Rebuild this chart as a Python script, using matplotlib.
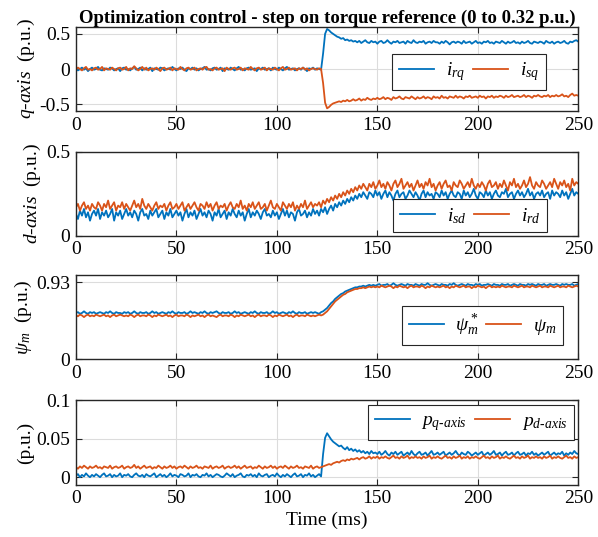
import numpy as np
import matplotlib
matplotlib.use("Agg")
import matplotlib.pyplot as plt

plt.rcParams['font.family'] = ['Liberation Serif', 'DejaVu Serif']
plt.rcParams['mathtext.fontset'] = 'custom'
plt.rcParams['mathtext.rm'] = 'Liberation Serif'
plt.rcParams['mathtext.it'] = 'Liberation Serif:italic'
plt.rcParams['mathtext.bf'] = 'Liberation Serif:bold'
plt.rcParams['axes.unicode_minus'] = False

# Sample times (ms), one sample per millisecond
time_ms = np.arange(0, 251)

# q-axis currents (p.u.)
i_rq = [0.01, -0.02, 0.00, 0.02, -0.01, 0.01, -0.03, 0.00, 0.02, -0.01,
        0.00, 0.03, -0.01, -0.02, 0.01, 0.00, -0.01, 0.02, 0.01, -0.02,
        0.00, 0.01, -0.03, 0.01, 0.02, -0.01, 0.00, -0.02, 0.01, 0.03,
        -0.01, 0.00, 0.02, -0.02, 0.01, -0.01, 0.00, 0.02, -0.03, 0.01,
        0.00, -0.01, 0.02, 0.01, -0.02, 0.00, 0.01, -0.01, 0.03, 0.00,
        -0.02, 0.01, 0.00, 0.02, -0.01, -0.03, 0.01, 0.00, 0.02, -0.01,
        0.01, -0.02, 0.00, 0.01, 0.03, -0.01, 0.00, -0.02, 0.01, 0.02,
        -0.01, 0.00, 0.02, -0.03, 0.01, 0.00, -0.01, 0.02, 0.00, -0.02,
        0.01, 0.03, -0.01, 0.00, -0.02, 0.01, 0.02, -0.01, 0.00, 0.01,
        -0.03, 0.01, 0.00, 0.02, -0.01, 0.00, 0.01, -0.02, 0.02, 0.00,
        -0.01, 0.02, 0.00, -0.02, 0.01, 0.03, -0.01, 0.00, 0.01, -0.02,
        0.00, 0.01, -0.01, 0.02, 0.00, -0.03, 0.01, 0.00, 0.02, -0.01,
        0.01, 0.00, -0.01, 0.22, 0.50, 0.57, 0.55, 0.52, 0.50, 0.48,
        0.46, 0.45, 0.43, 0.44, 0.41, 0.42, 0.40, 0.41, 0.39, 0.40,
        0.38, 0.40, 0.37, 0.39, 0.41, 0.38, 0.37, 0.40, 0.38, 0.39,
        0.36, 0.39, 0.40, 0.37, 0.38, 0.41, 0.38, 0.36, 0.39, 0.38,
        0.40, 0.37, 0.38, 0.39, 0.36, 0.40, 0.38, 0.37, 0.41, 0.38,
        0.37, 0.39, 0.38, 0.40, 0.36, 0.38, 0.39, 0.37, 0.40, 0.38,
        0.38, 0.36, 0.39, 0.37, 0.40, 0.38, 0.35, 0.38, 0.39, 0.37,
        0.39, 0.38, 0.36, 0.40, 0.37, 0.38, 0.39, 0.36, 0.38, 0.40,
        0.37, 0.38, 0.36, 0.39, 0.38, 0.40, 0.37, 0.38, 0.36, 0.39,
        0.38, 0.37, 0.40, 0.38, 0.36, 0.39, 0.37, 0.38, 0.40, 0.37,
        0.38, 0.36, 0.39, 0.37, 0.38, 0.40, 0.37, 0.36, 0.39, 0.38,
        0.37, 0.39, 0.38, 0.36, 0.40, 0.38, 0.37, 0.39, 0.36, 0.38,
        0.39, 0.37, 0.38, 0.40, 0.37, 0.36, 0.39, 0.38, 0.40, 0.41,
        0.39]
i_sq = [-0.01, 0.02, 0.00, -0.02, 0.01, 0.03, -0.01, 0.00, -0.02, 0.01,
        0.02, -0.01, 0.00, 0.03, -0.02, 0.01, 0.00, -0.01, 0.02, 0.00,
        -0.02, 0.01, 0.02, -0.01, 0.00, 0.03, -0.02, 0.01, 0.00, 0.04,
        0.01, -0.02, 0.00, 0.03, -0.01, 0.02, -0.02, 0.00, 0.01, -0.01,
        0.02, 0.00, -0.03, 0.01, 0.02, -0.01, 0.00, 0.02, -0.02, 0.01,
        0.00, -0.01, 0.03, 0.00, -0.02, 0.01, 0.02, -0.01, 0.00, 0.02,
        -0.02, 0.00, 0.01, -0.01, 0.02, 0.03, -0.01, 0.00, -0.02, 0.01,
        0.02, -0.01, 0.00, 0.01, -0.03, 0.02, 0.00, -0.01, 0.01, 0.02,
        -0.01, 0.00, 0.02, -0.02, 0.01, 0.00, -0.01, 0.03, 0.00, -0.02,
        0.01, 0.02, -0.01, 0.00, 0.02, -0.02, 0.01, 0.00, -0.01, 0.02,
        0.00, -0.02, 0.01, 0.03, -0.01, 0.00, 0.02, -0.01, 0.00, 0.01,
        -0.02, 0.01, 0.00, 0.02, -0.01, 0.01, -0.02, 0.00, 0.01, 0.00,
        -0.01, 0.01, 0.00, -0.20, -0.48, -0.56, -0.54, -0.51, -0.49, -0.48,
        -0.47, -0.46, -0.47, -0.45, -0.46, -0.44, -0.46, -0.45, -0.43, -0.45,
        -0.44, -0.42, -0.45, -0.43, -0.44, -0.41, -0.43, -0.44, -0.42, -0.43,
        -0.41, -0.43, -0.42, -0.40, -0.43, -0.41, -0.42, -0.44, -0.40, -0.42,
        -0.41, -0.39, -0.42, -0.43, -0.40, -0.41, -0.42, -0.39, -0.41, -0.43,
        -0.40, -0.42, -0.41, -0.39, -0.42, -0.40, -0.41, -0.43, -0.39, -0.41,
        -0.40, -0.42, -0.38, -0.41, -0.40, -0.42, -0.39, -0.40, -0.41, -0.38,
        -0.41, -0.39, -0.40, -0.42, -0.39, -0.40, -0.38, -0.41, -0.40, -0.39,
        -0.41, -0.38, -0.40, -0.39, -0.42, -0.39, -0.40, -0.38, -0.41, -0.39,
        -0.40, -0.38, -0.39, -0.41, -0.38, -0.40, -0.39, -0.37, -0.40, -0.39,
        -0.38, -0.40, -0.39, -0.37, -0.40, -0.38, -0.39, -0.41, -0.38, -0.39,
        -0.37, -0.39, -0.40, -0.38, -0.39, -0.37, -0.40, -0.38, -0.39, -0.37,
        -0.39, -0.38, -0.36, -0.39, -0.38, -0.40, -0.37, -0.35, -0.38, -0.37,
        -0.38]

# d-axis currents (p.u.)
i_sd = [0.13, 0.10, 0.15, 0.12, 0.16, 0.11, 0.14, 0.09, 0.13, 0.15,
        0.12, 0.16, 0.10, 0.14, 0.12, 0.15, 0.11, 0.13, 0.16, 0.09,
        0.14, 0.12, 0.15, 0.10, 0.13, 0.16, 0.12, 0.14, 0.11, 0.15,
        0.13, 0.09, 0.14, 0.16, 0.12, 0.13, 0.10, 0.15, 0.12, 0.14,
        0.16, 0.11, 0.13, 0.15, 0.10, 0.14, 0.12, 0.16, 0.11, 0.13,
        0.15, 0.12, 0.14, 0.09, 0.13, 0.16, 0.11, 0.14, 0.12, 0.15,
        0.10, 0.13, 0.16, 0.12, 0.14, 0.11, 0.15, 0.13, 0.09, 0.14,
        0.12, 0.16, 0.11, 0.13, 0.15, 0.10, 0.14, 0.12, 0.16, 0.13,
        0.11, 0.15, 0.12, 0.14, 0.09, 0.13, 0.16, 0.11, 0.14, 0.12,
        0.15, 0.13, 0.10, 0.14, 0.16, 0.12, 0.13, 0.11, 0.15, 0.12,
        0.14, 0.10, 0.13, 0.16, 0.12, 0.15, 0.11, 0.14, 0.13, 0.09,
        0.14, 0.16, 0.12, 0.13, 0.15, 0.11, 0.14, 0.12, 0.16, 0.13,
        0.15, 0.12, 0.16, 0.14, 0.17, 0.13, 0.16, 0.18, 0.15, 0.19,
        0.17, 0.20, 0.18, 0.21, 0.19, 0.22, 0.20, 0.23, 0.21, 0.24,
        0.22, 0.25, 0.23, 0.26, 0.24, 0.22, 0.26, 0.25, 0.23, 0.27,
        0.24, 0.26, 0.22, 0.25, 0.27, 0.23, 0.26, 0.24, 0.21, 0.25,
        0.27, 0.23, 0.25, 0.26, 0.22, 0.24, 0.27, 0.25, 0.23, 0.26,
        0.24, 0.21, 0.25, 0.27, 0.23, 0.26, 0.24, 0.25, 0.22, 0.26,
        0.25, 0.23, 0.27, 0.24, 0.26, 0.22, 0.25, 0.27, 0.24, 0.23,
        0.26, 0.25, 0.22, 0.27, 0.24, 0.26, 0.23, 0.25, 0.28, 0.24,
        0.22, 0.26, 0.25, 0.23, 0.27, 0.24, 0.26, 0.22, 0.25, 0.27,
        0.24, 0.23, 0.26, 0.25, 0.28, 0.23, 0.25, 0.26, 0.22, 0.25,
        0.27, 0.24, 0.26, 0.23, 0.25, 0.28, 0.24, 0.26, 0.22, 0.25,
        0.26, 0.24, 0.27, 0.23, 0.25, 0.26, 0.22, 0.27, 0.24, 0.26,
        0.25, 0.23, 0.27, 0.24, 0.26, 0.22, 0.25, 0.28, 0.24, 0.26,
        0.25]
i_rd = [0.17, 0.19, 0.15, 0.18, 0.20, 0.16, 0.18, 0.15, 0.19, 0.17,
        0.16, 0.20, 0.18, 0.15, 0.19, 0.17, 0.21, 0.16, 0.18, 0.20,
        0.15, 0.18, 0.17, 0.20, 0.16, 0.19, 0.17, 0.15, 0.18, 0.21,
        0.17, 0.19, 0.16, 0.22, 0.18, 0.16, 0.19, 0.17, 0.15, 0.18,
        0.20, 0.16, 0.18, 0.17, 0.19, 0.15, 0.18, 0.20, 0.16, 0.17,
        0.19, 0.16, 0.18, 0.20, 0.15, 0.17, 0.19, 0.16, 0.18, 0.20,
        0.17, 0.15, 0.19, 0.18, 0.16, 0.20, 0.17, 0.19, 0.15, 0.18,
        0.20, 0.16, 0.18, 0.17, 0.19, 0.15, 0.18, 0.20, 0.17, 0.16,
        0.19, 0.17, 0.21, 0.16, 0.18, 0.15, 0.19, 0.17, 0.20, 0.16,
        0.18, 0.20, 0.16, 0.17, 0.19, 0.15, 0.18, 0.21, 0.17, 0.16,
        0.19, 0.17, 0.15, 0.20, 0.18, 0.16, 0.19, 0.17, 0.20, 0.15,
        0.18, 0.16, 0.19, 0.17, 0.21, 0.16, 0.18, 0.20, 0.17, 0.19,
        0.18, 0.20, 0.17, 0.21, 0.19, 0.22, 0.20, 0.23, 0.21, 0.24,
        0.22, 0.25, 0.23, 0.26, 0.24, 0.27, 0.25, 0.28, 0.26, 0.29,
        0.27, 0.30, 0.28, 0.31, 0.29, 0.27, 0.31, 0.29, 0.32, 0.28,
        0.30, 0.33, 0.29, 0.31, 0.28, 0.32, 0.30, 0.27, 0.31, 0.33,
        0.29, 0.31, 0.34, 0.28, 0.30, 0.32, 0.29, 0.31, 0.27, 0.30,
        0.33, 0.29, 0.31, 0.28, 0.32, 0.30, 0.34, 0.29, 0.31, 0.27,
        0.30, 0.32, 0.28, 0.31, 0.33, 0.29, 0.30, 0.27, 0.32, 0.30,
        0.29, 0.33, 0.31, 0.28, 0.30, 0.32, 0.29, 0.34, 0.30, 0.28,
        0.31, 0.29, 0.32, 0.30, 0.27, 0.31, 0.33, 0.29, 0.30, 0.32,
        0.28, 0.31, 0.29, 0.33, 0.30, 0.27, 0.32, 0.30, 0.34, 0.29,
        0.31, 0.28, 0.30, 0.33, 0.29, 0.31, 0.35, 0.30, 0.28, 0.32,
        0.30, 0.29, 0.33, 0.31, 0.28, 0.30, 0.32, 0.29, 0.34, 0.31,
        0.28, 0.32, 0.30, 0.33, 0.29, 0.31, 0.27, 0.34, 0.30, 0.32,
        0.31]

# Magnetising flux: reference and estimate (p.u.)
psi_ref = [0.56, 0.57, 0.55, 0.56, 0.58, 0.56, 0.55, 0.57, 0.56, 0.57,
           0.55, 0.56, 0.57, 0.56, 0.55, 0.57, 0.56, 0.58, 0.56, 0.55,
           0.57, 0.56, 0.56, 0.55, 0.57, 0.56, 0.57, 0.55, 0.56, 0.58,
           0.56, 0.55, 0.57, 0.56, 0.56, 0.57, 0.55, 0.56, 0.58, 0.56,
           0.57, 0.55, 0.56, 0.57, 0.56, 0.55, 0.57, 0.56, 0.58, 0.56,
           0.55, 0.57, 0.56, 0.56, 0.57, 0.55, 0.56, 0.58, 0.56, 0.57,
           0.56, 0.55, 0.57, 0.56, 0.58, 0.56, 0.55, 0.57, 0.56, 0.57,
           0.58, 0.56, 0.55, 0.57, 0.56, 0.56, 0.57, 0.55, 0.56, 0.58,
           0.56, 0.57, 0.55, 0.56, 0.57, 0.56, 0.55, 0.57, 0.56, 0.58,
           0.56, 0.55, 0.57, 0.56, 0.56, 0.57, 0.55, 0.56, 0.58, 0.56,
           0.57, 0.55, 0.56, 0.57, 0.56, 0.55, 0.57, 0.56, 0.58, 0.56,
           0.55, 0.57, 0.56, 0.56, 0.57, 0.55, 0.56, 0.57, 0.56, 0.57,
           0.56, 0.55, 0.57, 0.58, 0.60, 0.62, 0.65, 0.68, 0.70, 0.73,
           0.75, 0.77, 0.79, 0.80, 0.82, 0.83, 0.84, 0.85, 0.86, 0.87,
           0.87, 0.88, 0.88, 0.89, 0.88, 0.89, 0.90, 0.89, 0.90, 0.89,
           0.90, 0.91, 0.89, 0.90, 0.90, 0.91, 0.89, 0.90, 0.92, 0.90,
           0.89, 0.90, 0.91, 0.90, 0.89, 0.91, 0.90, 0.90, 0.89, 0.91,
           0.90, 0.89, 0.91, 0.90, 0.90, 0.92, 0.90, 0.89, 0.90, 0.91,
           0.90, 0.89, 0.91, 0.90, 0.90, 0.89, 0.91, 0.90, 0.92, 0.90,
           0.89, 0.90, 0.91, 0.90, 0.89, 0.91, 0.90, 0.90, 0.89, 0.91,
           0.90, 0.91, 0.89, 0.90, 0.90, 0.91, 0.90, 0.89, 0.91, 0.90,
           0.90, 0.89, 0.91, 0.90, 0.90, 0.91, 0.89, 0.90, 0.91, 0.90,
           0.89, 0.91, 0.90, 0.90, 0.89, 0.91, 0.90, 0.91, 0.90, 0.89,
           0.91, 0.90, 0.90, 0.91, 0.89, 0.90, 0.91, 0.90, 0.90, 0.91,
           0.90, 0.89, 0.91, 0.90, 0.91, 0.90, 0.90, 0.91, 0.89, 0.90,
           0.91]
psi_m = [0.53, 0.52, 0.54, 0.53, 0.51, 0.53, 0.54, 0.52, 0.53, 0.52,
         0.54, 0.53, 0.52, 0.53, 0.54, 0.52, 0.53, 0.51, 0.53, 0.54,
         0.52, 0.53, 0.54, 0.53, 0.52, 0.53, 0.52, 0.54, 0.53, 0.51,
         0.53, 0.54, 0.52, 0.53, 0.53, 0.52, 0.54, 0.53, 0.51, 0.53,
         0.52, 0.54, 0.53, 0.52, 0.53, 0.54, 0.52, 0.53, 0.51, 0.53,
         0.54, 0.52, 0.53, 0.53, 0.52, 0.54, 0.53, 0.51, 0.53, 0.52,
         0.53, 0.54, 0.52, 0.53, 0.51, 0.53, 0.54, 0.52, 0.53, 0.52,
         0.51, 0.53, 0.54, 0.52, 0.53, 0.53, 0.52, 0.54, 0.53, 0.51,
         0.53, 0.52, 0.54, 0.53, 0.52, 0.53, 0.54, 0.52, 0.53, 0.51,
         0.53, 0.54, 0.52, 0.53, 0.53, 0.52, 0.54, 0.53, 0.51, 0.53,
         0.52, 0.54, 0.53, 0.52, 0.53, 0.54, 0.52, 0.53, 0.51, 0.53,
         0.54, 0.52, 0.53, 0.53, 0.52, 0.54, 0.53, 0.52, 0.53, 0.52,
         0.53, 0.54, 0.53, 0.54, 0.56, 0.58, 0.61, 0.64, 0.67, 0.70,
         0.72, 0.74, 0.76, 0.78, 0.79, 0.81, 0.82, 0.83, 0.84, 0.85,
         0.85, 0.86, 0.86, 0.87, 0.86, 0.87, 0.88, 0.87, 0.88, 0.87,
         0.88, 0.87, 0.89, 0.88, 0.87, 0.88, 0.89, 0.88, 0.86, 0.88,
         0.87, 0.89, 0.88, 0.87, 0.88, 0.86, 0.88, 0.89, 0.87, 0.88,
         0.88, 0.87, 0.89, 0.88, 0.86, 0.88, 0.87, 0.89, 0.88, 0.87,
         0.88, 0.87, 0.88, 0.89, 0.87, 0.88, 0.86, 0.88, 0.87, 0.89,
         0.88, 0.87, 0.88, 0.89, 0.87, 0.88, 0.88, 0.86, 0.88, 0.87,
         0.89, 0.88, 0.87, 0.88, 0.86, 0.88, 0.89, 0.87, 0.88, 0.87,
         0.88, 0.87, 0.89, 0.88, 0.87, 0.88, 0.88, 0.87, 0.89, 0.88,
         0.87, 0.88, 0.89, 0.87, 0.88, 0.88, 0.87, 0.89, 0.88, 0.87,
         0.88, 0.89, 0.87, 0.88, 0.88, 0.87, 0.89, 0.88, 0.87, 0.88,
         0.89, 0.87, 0.88, 0.88, 0.87, 0.89, 0.88, 0.87, 0.88, 0.89,
         0.88]

# Losses split by axis (p.u.)
p_q = [0.002, 0.004, 0.000, 0.003, 0.001, 0.005, 0.002, 0.000, 0.003, 0.001,
       0.004, 0.002, 0.000, 0.003, 0.005, 0.001, 0.002, 0.004, 0.000, 0.003,
       0.001, 0.002, 0.005, 0.000, 0.003, 0.002, 0.004, 0.001, 0.000, 0.003,
       0.005, 0.002, 0.001, 0.003, 0.000, 0.004, 0.002, 0.001, 0.003, 0.005,
       0.000, 0.002, 0.004, 0.001, 0.003, 0.000, 0.002, 0.005, 0.001, 0.003,
       0.002, 0.000, 0.004, 0.003, 0.001, 0.002, 0.005, 0.000, 0.003, 0.002,
       0.004, 0.001, 0.000, 0.003, 0.002, 0.005, 0.001, 0.003, 0.000, 0.002,
       0.004, 0.003, 0.001, 0.000, 0.002, 0.005, 0.003, 0.001, 0.004, 0.000,
       0.002, 0.003, 0.005, 0.001, 0.000, 0.003, 0.002, 0.004, 0.001, 0.003,
       0.000, 0.005, 0.002, 0.001, 0.003, 0.004, 0.000, 0.002, 0.003, 0.001,
       0.005, 0.002, 0.000, 0.003, 0.001, 0.004, 0.002, 0.000, 0.003, 0.005,
       0.001, 0.002, 0.004, 0.000, 0.003, 0.002, 0.005, 0.001, 0.003, 0.000,
       0.002, 0.004, 0.001, 0.030, 0.051, 0.057, 0.053, 0.049, 0.046, 0.044,
       0.042, 0.040, 0.041, 0.038, 0.036, 0.039, 0.035, 0.037, 0.034, 0.036,
       0.033, 0.035, 0.032, 0.034, 0.031, 0.033, 0.030, 0.034, 0.031, 0.032,
       0.030, 0.033, 0.029, 0.031, 0.034, 0.030, 0.028, 0.032, 0.030, 0.033,
       0.029, 0.031, 0.033, 0.028, 0.030, 0.032, 0.029, 0.034, 0.030, 0.028,
       0.031, 0.033, 0.029, 0.030, 0.032, 0.028, 0.031, 0.034, 0.029, 0.030,
       0.032, 0.029, 0.031, 0.033, 0.028, 0.030, 0.032, 0.029, 0.031, 0.034,
       0.030, 0.028, 0.032, 0.030, 0.029, 0.033, 0.031, 0.028, 0.030, 0.032,
       0.029, 0.031, 0.033, 0.028, 0.030, 0.032, 0.029, 0.031, 0.034, 0.029,
       0.030, 0.032, 0.028, 0.031, 0.033, 0.029, 0.030, 0.032, 0.028, 0.031,
       0.033, 0.029, 0.030, 0.032, 0.028, 0.031, 0.030, 0.033, 0.029, 0.031,
       0.028, 0.030, 0.032, 0.029, 0.031, 0.033, 0.028, 0.030, 0.032, 0.029,
       0.031, 0.030, 0.033, 0.028, 0.031, 0.029, 0.032, 0.030, 0.034, 0.031,
       0.030]
p_d = [0.013, 0.011, 0.014, 0.012, 0.015, 0.013, 0.011, 0.014, 0.012, 0.013,
       0.015, 0.012, 0.013, 0.011, 0.014, 0.013, 0.012, 0.015, 0.011, 0.013,
       0.014, 0.012, 0.013, 0.015, 0.011, 0.013, 0.014, 0.012, 0.013, 0.016,
       0.012, 0.014, 0.011, 0.013, 0.015, 0.012, 0.013, 0.014, 0.011, 0.013,
       0.012, 0.015, 0.013, 0.011, 0.014, 0.012, 0.013, 0.015, 0.012, 0.014,
       0.011, 0.013, 0.014, 0.012, 0.015, 0.013, 0.011, 0.014, 0.012, 0.013,
       0.015, 0.012, 0.013, 0.011, 0.014, 0.013, 0.012, 0.015, 0.011, 0.013,
       0.014, 0.012, 0.013, 0.015, 0.011, 0.013, 0.014, 0.012, 0.013, 0.015,
       0.012, 0.014, 0.011, 0.013, 0.015, 0.012, 0.013, 0.014, 0.011, 0.013,
       0.012, 0.015, 0.013, 0.011, 0.014, 0.012, 0.013, 0.015, 0.012, 0.014,
       0.011, 0.013, 0.014, 0.012, 0.015, 0.013, 0.011, 0.014, 0.012, 0.013,
       0.015, 0.012, 0.013, 0.011, 0.014, 0.013, 0.012, 0.015, 0.011, 0.013,
       0.014, 0.012, 0.013, 0.014, 0.015, 0.016, 0.017, 0.016, 0.018, 0.019,
       0.020, 0.019, 0.021, 0.022, 0.021, 0.023, 0.022, 0.024, 0.023, 0.024,
       0.025, 0.023, 0.025, 0.026, 0.024, 0.025, 0.027, 0.024, 0.026, 0.025,
       0.027, 0.024, 0.026, 0.025, 0.027, 0.025, 0.024, 0.026, 0.028, 0.025,
       0.026, 0.024, 0.027, 0.025, 0.026, 0.028, 0.024, 0.026, 0.025, 0.027,
       0.025, 0.026, 0.024, 0.027, 0.025, 0.026, 0.028, 0.024, 0.026, 0.025,
       0.027, 0.025, 0.024, 0.026, 0.028, 0.025, 0.026, 0.024, 0.027, 0.025,
       0.026, 0.028, 0.024, 0.026, 0.025, 0.027, 0.024, 0.026, 0.025, 0.027,
       0.025, 0.024, 0.026, 0.028, 0.025, 0.026, 0.024, 0.027, 0.025, 0.026,
       0.028, 0.024, 0.026, 0.025, 0.027, 0.025, 0.024, 0.026, 0.028, 0.025,
       0.026, 0.024, 0.027, 0.025, 0.026, 0.028, 0.024, 0.026, 0.025, 0.027,
       0.025, 0.026, 0.024, 0.027, 0.025, 0.026, 0.028, 0.024, 0.026, 0.025,
       0.027, 0.025, 0.024, 0.026, 0.028, 0.025, 0.026, 0.024, 0.027, 0.025,
       0.026]

BLUE = '#0072BD'
ORANGE = '#D95319'

'''Common MATLAB-like look for each subplot'''
def style_axes(ax, ylim, yticks, yticklabels=None):
    ax.set_xlim(0, 250)
    ax.set_ylim(*ylim)
    ax.set_xticks([0, 50, 100, 150, 200, 250])
    ax.set_yticks(yticks)
    if yticklabels is not None:
        ax.set_yticklabels(yticklabels)
    ax.grid(True, color='#dcdcdc', linewidth=0.8)
    ax.set_axisbelow(True)
    ax.tick_params(direction='in', top=True, right=True, labelsize=14,
                   length=4, width=0.8, color='#262626', pad=4)
    for s in ax.spines.values():
        s.set_linewidth(1.0)
        s.set_color('#262626')


'''Two-column boxed legend placed by its outer corner'''
def add_legend(ax, loc, anchor):
    leg = ax.legend(ncol=2, loc=loc, bbox_to_anchor=anchor, fontsize=14,
                    handlelength=1.8, columnspacing=0.4, handletextpad=0.6,
                    fancybox=False, framealpha=1, edgecolor='#262626',
                    borderpad=0.35, borderaxespad=0)
    leg.get_frame().set_linewidth(0.8)


fig = plt.figure(figsize=(5.98, 5.37), dpi=100)
ax1 = fig.add_axes([0.127, 0.793, 0.840, 0.157])
ax2 = fig.add_axes([0.127, 0.561, 0.840, 0.156])
ax3 = fig.add_axes([0.127, 0.331, 0.840, 0.157])
ax4 = fig.add_axes([0.127, 0.097, 0.840, 0.158])

lw = 1.3

# q-axis currents
ax1.plot(time_ms, i_rq, color=BLUE, lw=lw, label=r'$i_{rq}$')
ax1.plot(time_ms, i_sq, color=ORANGE, lw=lw, label=r'$i_{sq}$')
style_axes(ax1, (-0.6, 0.6), [-0.5, 0, 0.5], ['-0.5', '0', '0.5'])
ax1.set_ylabel(r'$\mathit{q}$-$\mathit{axis}$  (p.u.)', fontsize=14, labelpad=2)
ax1.set_title('Optimization control - step on torque reference (0 to 0.32 p.u.)',
              fontsize=13.5, fontweight='bold', pad=3)
add_legend(ax1, 'lower right', (0.935, 0.25))

# d-axis currents
ax2.plot(time_ms, i_sd, color=BLUE, lw=lw, label=r'$i_{sd}$')
ax2.plot(time_ms, i_rd, color=ORANGE, lw=lw, label=r'$i_{rd}$')
style_axes(ax2, (0, 0.5), [0, 0.5], ['0', '0.5'])
ax2.set_ylabel(r'$\mathit{d}$-$\mathit{axis}$  (p.u.)', fontsize=14, labelpad=2)
add_legend(ax2, 'lower right', (0.938, 0.04))

# magnetising flux
ax3.plot(time_ms, psi_ref, color=BLUE, lw=lw, label=r'$\psi_m^*$')
ax3.plot(time_ms, psi_m, color=ORANGE, lw=lw, label=r'$\psi_m$')
style_axes(ax3, (0, 1.02), [0, 0.93], ['0', '0.93'])
ax3.set_ylabel(r'$\psi_m$  (p.u.)', fontsize=14, labelpad=2)
add_legend(ax3, 'lower right', (0.97, 0.17))

# q/d-axis losses
ax4.plot(time_ms, p_q, color=BLUE, lw=lw, label=r'$p_{q\text{-}axis}$')
ax4.plot(time_ms, p_d, color=ORANGE, lw=lw, label=r'$p_{d\text{-}axis}$')
style_axes(ax4, (-0.01, 0.1), [0, 0.05, 0.1], ['0', '0.05', '0.1'])
ax4.set_ylabel('(p.u.)', fontsize=14, labelpad=2)
ax4.set_xlabel('Time (ms)', fontsize=14, labelpad=3)
add_legend(ax4, 'upper right', (0.992, 0.94))

fig.savefig('out.png', dpi=100)
